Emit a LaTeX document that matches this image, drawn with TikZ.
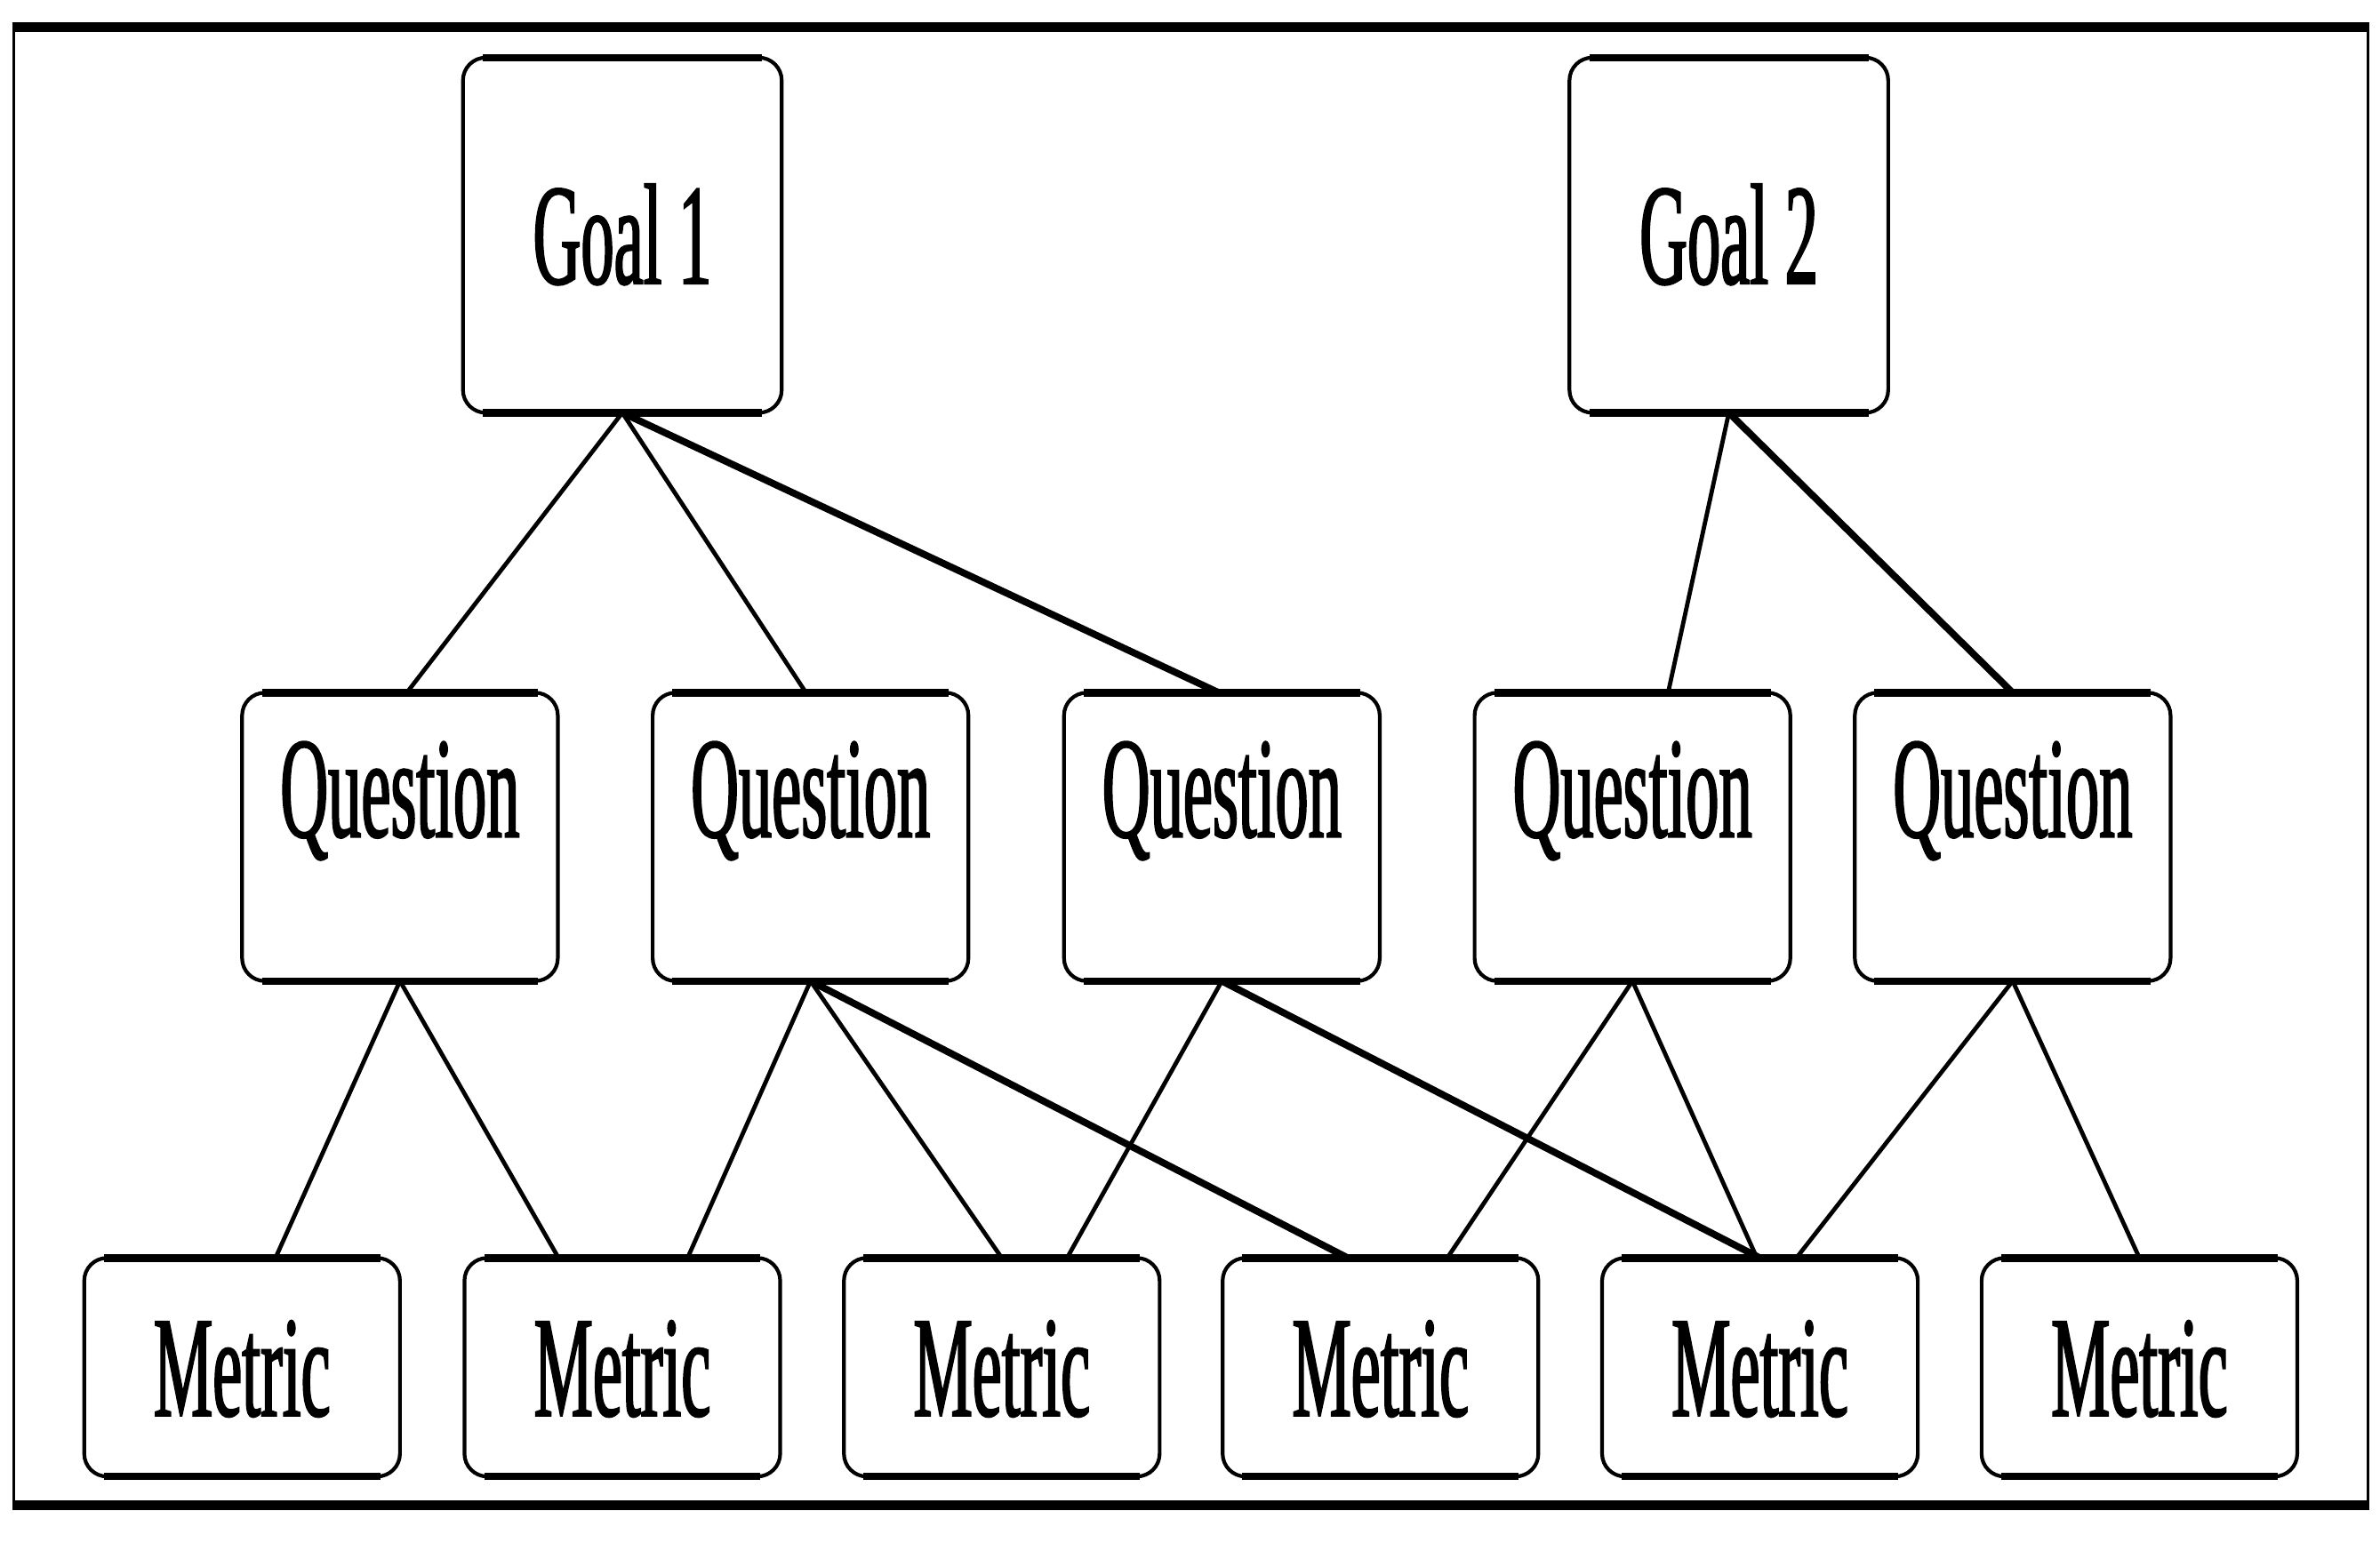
\documentclass[tikz,border=0pt]{standalone}
\usepackage{fontspec}
\newfontfamily\boxfont[FakeStretch=0.46, FakeBold=1.2]{Liberation Serif}

\begin{document}
\begin{tikzpicture}[x=0.1mm, y=-0.1mm,
    every node/.style={draw, rounded corners=1.5mm, line width=0.7pt,
        inner sep=0pt, outer sep=0pt, font=\boxfont\fontsize{27}{30}\selectfont},
    goalbox/.style={minimum width=21mm, minimum height=23.4mm, text height=6.4mm, text depth=0pt},
    qbox/.style={minimum width=20.8mm, minimum height=19mm, text height=6.4mm, text depth=6.4mm},
    metricbox/.style={minimum width=20.8mm, minimum height=14.4mm, text height=6.4mm, text depth=0pt},
    link/.style={line width=0.8pt},
    longlink/.style={line width=1.3pt}]

    \useasboundingbox (0,0) rectangle (1568,1022);
    % outer frame
    \draw[line width=0.5pt] (9,18) -- (9,992) (1560,18) -- (1560,992);
    \draw[line width=1.8pt] (8,18) -- (1561,18) (8,992) -- (1561,992);

    % goals
    \node[goalbox] (g1) at (410,155) {Goal 1};
    \node[goalbox] (g2) at (1139,155) {Goal 2};
    % questions
    \foreach \n/\x in {1/263.5, 2/534, 3/805, 4/1075.5, 5/1326}
        \node[qbox] (q\n) at (\x,551.5) {Question};
    % metrics
    \foreach \n/\x in {1/159.5, 2/410, 3/660, 4/909.5, 5/1159.5, 6/1409.5}
        \node[metricbox] (m\n) at (\x,901) {Metric};

    % heavier top and bottom edges
    \foreach \b in {g1,g2,q1,q2,q3,q4,q5,m1,m2,m3,m4,m5,m6}
        \draw[line width=1.4pt] ([xshift=1.3mm]\b.north west) -- ([xshift=-1.3mm]\b.north east)
            ([xshift=1.3mm]\b.south west) -- ([xshift=-1.3mm]\b.south east);

    % goal -> question
    \draw[link] (g1.south) -- ([xshift=0.45mm]q1.north);
    \draw[link] (g1.south) -- ([xshift=-0.3mm]q2.north);
    \draw[longlink] (g1.south) -- ([xshift=-0.2mm]q3.north);
    \draw[link] (g2.south) -- ([xshift=2.35mm]q4.north);
    \draw[longlink] (g2.south) -- (q5.north);

    % question -> metric
    \draw[link] (q1.south) -- ([xshift=2.2mm]m1.north);
    \draw[link] (q1.south) -- ([xshift=-4.2mm]m2.north);
    \draw[link] (q2.south) -- ([xshift=4.3mm]m2.north);
    \draw[link] (q2.south) -- (m3.north);
    \draw[longlink] (q2.south) -- ([xshift=-2.15mm]m4.north);
    \draw[link] (q3.south) -- ([xshift=4.3mm]m3.north);
    \draw[longlink] (q3.south) -- (m5.north);
    \draw[link] (q4.south) -- ([xshift=4.4mm]m4.north);
    \draw[link] (q4.south) -- ([xshift=-0.2mm]m5.north);
    \draw[link] (q5.south) -- ([xshift=2.4mm]m5.north);
    \draw[link] (q5.south) -- (m6.north);

\end{tikzpicture}
\end{document}
